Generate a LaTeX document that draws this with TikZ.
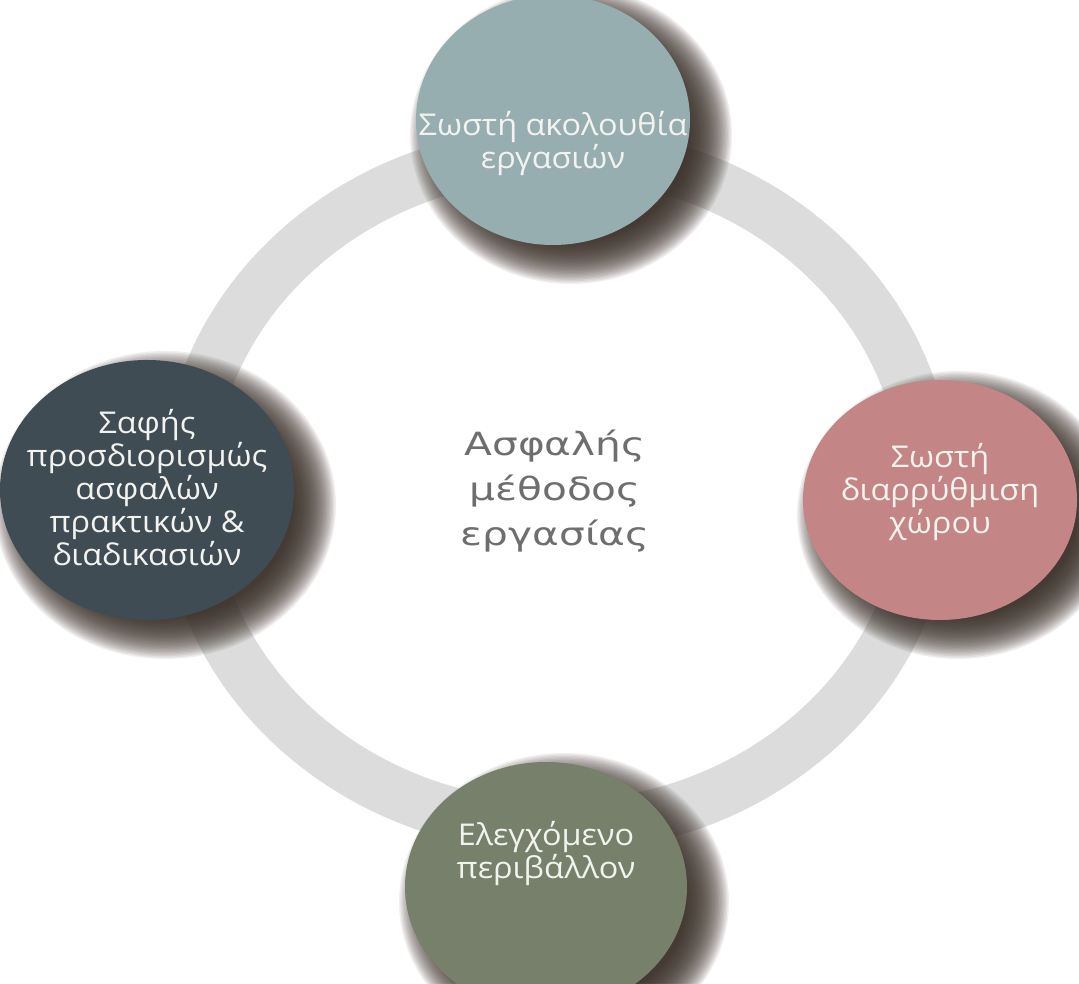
\documentclass[tikz,border=0pt]{standalone}
\usepackage{fontspec}
\newfontfamily\circfont[FakeStretch=1.08]{Open Sans}
\newfontfamily\centfont[FakeStretch=1.27]{DejaVu Sans}
\usetikzlibrary{calc}
\definecolor{ringc}{HTML}{DCDCDC}
\definecolor{shadowc}{HTML}{3A3028}
\definecolor{topc}{HTML}{97AEB0}
\definecolor{leftc}{HTML}{3F4C53}
\definecolor{rightc}{HTML}{C38585}
\definecolor{botc}{HTML}{76806A}
\definecolor{txtc}{HTML}{F2F2EE}
\definecolor{centc}{HTML}{6E6E6E}
\newcommand\softshadow[3]{%
  \foreach \k in {0,...,31}{%
    \fill[shadowc, opacity=0.075] ($(#1)+(18,-15)$) ellipse [x radius={#2+24-1.4*\k}, y radius={#3+24-1.4*\k}];
  }%
}
\begin{document}
\begin{tikzpicture}[x=1pt,y=1pt,
  bubble/.style={inner sep=0pt, text=txtc, align=center,
    font=\circfont\fontsize{30}{33}\selectfont}]
\useasboundingbox (0,0) rectangle (1079,983);
\fill[white] (0,0) rectangle (1079,983);
\coordinate (ctop) at (553,863);
\coordinate (cleft) at (147,493);
\coordinate (cright) at (940,483);
\coordinate (cbot) at (546,96);
\coordinate (cring) at (557,493);
% ring
\draw[ringc, line width=52pt] (cring) ellipse [x radius=370, y radius=337];
% shadows
\softshadow{ctop}{137}{125}
\softshadow{cleft}{147}{130}
\softshadow{cright}{137}{120}
\softshadow{cbot}{141}{125}
% discs
\fill[topc] (ctop) ellipse [x radius=137, y radius=125];
\fill[leftc] (cleft) ellipse [x radius=147, y radius=130];
\fill[rightc] (cright) ellipse [x radius=137, y radius=120];
\fill[botc] (cbot) ellipse [x radius=141, y radius=125];
% texts
\node[bubble] (top) at ($(ctop)+(0,-24)$) {Σωστή ακολουθία\\εργασιών};
\node[bubble] (left) at ($(cleft)+(0,2)$) {Σαφής\\προσδιορισμώς\\ασφαλών\\πρακτικών \&\\διαδικασιών};
\node[bubble] (right) at ($(cright)+(0,8)$) {Σωστή\\διαρρύθμιση\\χώρου};
\node[bubble] (bot) at ($(cbot)+(0,33)$) {Ελεγχόμενο\\περιβάλλον};
% centre
\node[text=centc, align=center, font=\centfont\fontsize{32}{45}\selectfont] (mid) at (555,492) {Ασφαλής\\μέθοδος\\εργασίας};
\end{tikzpicture}
\end{document}
